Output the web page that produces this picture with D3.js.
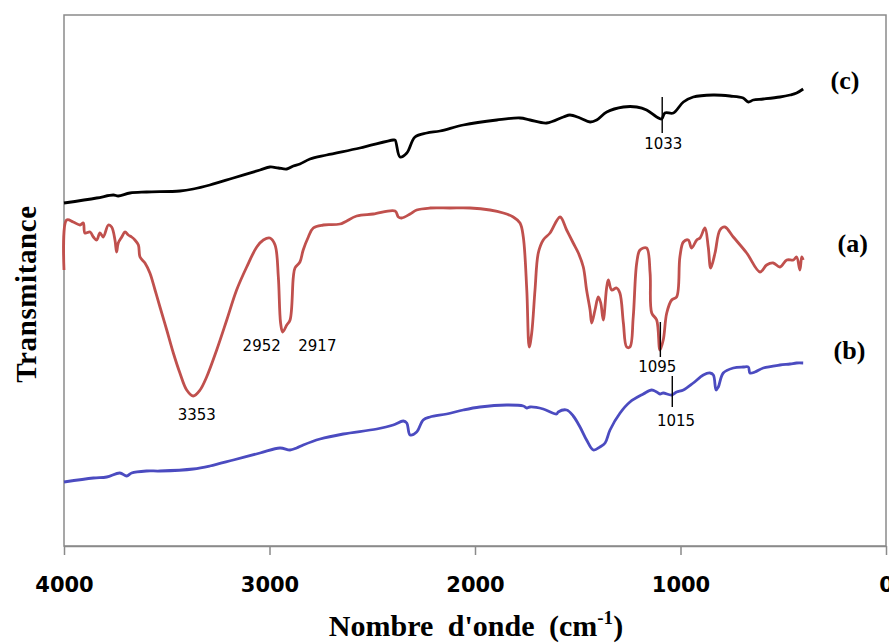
<!DOCTYPE html>
<html>
<head>
<meta charset="utf-8">
<script src="https://cdn.jsdelivr.net/npm/d3@7"></script>
<style>
	body { margin: 0; background: #fff; }
	svg { display: block; }
</style>
</head>
<body>
<div id="chart"></div>
<script>
// FTIR spectra, wavenumber (cm-1) vs transmittance (arbitrary units)
var ticksX = [4000, 3000, 2000, 1000, 0];

var spectrumC = [
	[4000, 343], [3841, 348], [3760, 351], [3736, 350], [3679, 353], [3598, 354], [3436, 355],
	[3371, 357], [3290, 361], [3176, 368], [3046, 376], [2998, 379], [2957, 378], [2916, 377],
	[2884, 380], [2852, 382], [2803, 387], [2722, 391], [2560, 398], [2398, 406], [2389, 406],
	[2365, 389], [2332, 393], [2292, 409], [2235, 413], [2170, 415], [2057, 421], [1894, 426],
	[1781, 428], [1732, 426], [1651, 423], [1570, 429], [1538, 431], [1489, 428], [1440, 424],
	[1408, 426], [1359, 434], [1278, 439], [1213, 439], [1165, 436], [1116, 429], [1092, 427],
	[1076, 433], [1035, 433], [986, 444], [938, 449], [841, 451], [759, 450], [695, 448],
	[670, 444], [646, 446], [597, 447], [516, 449], [467, 451], [435, 453], [403, 457]
];

var spectrumA = [
	[4000, 276], [3987, 326], [3955, 324], [3922, 321], [3906, 323], [3898, 313], [3873, 314],
	[3857, 309], [3841, 306], [3825, 313], [3809, 309], [3784, 321], [3768, 319], [3752, 306],
	[3744, 294], [3736, 303], [3719, 309], [3703, 314], [3687, 311], [3671, 309], [3655, 306],
	[3638, 301], [3630, 289], [3606, 283], [3582, 273], [3557, 256], [3533, 239], [3500, 216],
	[3468, 193], [3436, 173], [3403, 156], [3371, 150], [3338, 156], [3306, 169], [3257, 196],
	[3208, 226], [3160, 256], [3111, 279], [3062, 299], [3030, 306], [2998, 308], [2973, 301],
	[2957, 269], [2946, 223], [2936, 214], [2916, 221], [2900, 226], [2884, 269], [2876, 278],
	[2852, 284], [2836, 296], [2811, 309], [2787, 318], [2738, 321], [2657, 322], [2576, 330],
	[2495, 332], [2389, 335], [2373, 329], [2357, 328], [2316, 332], [2284, 336], [2219, 338],
	[2122, 338], [2024, 338], [1927, 336], [1862, 333], [1814, 329], [1781, 323], [1765, 309],
	[1748, 256], [1736, 199], [1724, 213], [1708, 256], [1692, 293], [1668, 306], [1635, 313],
	[1586, 329], [1554, 316], [1522, 303], [1497, 293], [1473, 279], [1457, 256], [1440, 236],
	[1432, 223], [1416, 236], [1400, 249], [1388, 243], [1376, 226], [1359, 259], [1351, 266],
	[1335, 256], [1311, 258], [1295, 253], [1278, 223], [1262, 199], [1246, 199], [1230, 229],
	[1213, 283], [1197, 296], [1165, 298], [1148, 273], [1140, 233], [1116, 226], [1100, 196],
	[1084, 206], [1067, 233], [1043, 246], [1019, 249], [1003, 289], [986, 304], [962, 306],
	[946, 298], [921, 306], [905, 308], [881, 318], [865, 299], [853, 278], [832, 293],
	[808, 316], [784, 319], [743, 309], [678, 293], [613, 274], [581, 281], [549, 283],
	[516, 279], [483, 286], [451, 286], [435, 289], [419, 276], [410, 289], [403, 286]
];

var spectrumB = [
	[4000, 64], [3857, 68], [3792, 69], [3728, 73], [3695, 70], [3671, 73], [3598, 75],
	[3533, 75], [3371, 77], [3290, 80], [3176, 86], [3046, 93], [2949, 98], [2900, 96],
	[2868, 98], [2836, 101], [2754, 107], [2641, 112], [2478, 117], [2398, 121], [2349, 125],
	[2332, 123], [2316, 111], [2284, 114], [2252, 126], [2219, 129], [2138, 132], [2057, 136],
	[1976, 139], [1846, 141], [1765, 140], [1748, 138], [1732, 139], [1668, 137], [1603, 132],
	[1595, 134], [1554, 136], [1522, 130], [1489, 119], [1457, 106], [1424, 96], [1392, 99],
	[1367, 103], [1343, 116], [1294, 133], [1246, 144], [1181, 152], [1140, 156], [1116, 154],
	[1100, 152], [1084, 153], [1043, 151], [1019, 154], [986, 156], [938, 163], [889, 171],
	[857, 173], [840, 171], [827, 156], [816, 159], [792, 173], [743, 178], [695, 179],
	[670, 179], [662, 173], [638, 174], [597, 178], [516, 181], [467, 182], [435, 183], [403, 183]
];

// peak marks: short vertical bar plus the wavenumber text
var peakLines = [
	{ w: 1089, t0: 449, t1: 413 },
	{ w: 1098, t0: 224, t1: 189 },
	{ w: 1040, t0: 170, t1: 139 }
];
var peakLabels = [
	{ text: "1033", w: 1084, t: 397 },
	{ text: "2952", w: 3038, t: 195 },
	{ text: "2917", w: 2767, t: 195 },
	{ text: "3353", w: 3354, t: 126 },
	{ text: "1095", w: 1113, t: 174 },
	{ text: "1015", w: 1022, t: 120 }
];

var series = [
	{ name: "(c)", values: spectrumC, color: "#000000", labelW: 270, labelT: 457 },
	{ name: "(a)", values: spectrumA, color: "#C0504D", labelW: 236, labelT: 294 },
	{ name: "(b)", values: spectrumB, color: "#4B4BC0", labelW: 255, labelT: 187 }
];

function makeChart() {
	var width = 889, height = 643,
		margin = { top: 15, right: 3, bottom: 97, left: 64 },
		innerW = width - margin.left - margin.right,
		innerH = height - margin.top - margin.bottom;

	var svg = d3.select("#chart").append("svg")
		.attr("width", width)
		.attr("height", height);

	var g = svg.append("g")
		.attr("transform", "translate(" + margin.left + "," + margin.top + ")");

	var x = d3.scaleLinear().domain([4000, 0]).range([0, innerW]);
	var y = d3.scaleLinear().domain([0, innerH]).range([innerH, 0]);

	// frame
	g.append("rect")
		.attr("width", innerW).attr("height", innerH)
		.attr("fill", "none")
		.attr("stroke", "#8a8a8a")
		.attr("stroke-width", 1.5);

	// x axis
	var xAxis = g.append("g")
		.attr("transform", "translate(0," + innerH + ")")
		.call(d3.axisBottom(x).tickValues(ticksX).tickSize(9).tickSizeOuter(0).tickFormat(d3.format("d")));
	xAxis.select(".domain").attr("stroke", "#8a8a8a").attr("stroke-width", 1.5);
	xAxis.selectAll(".tick line").attr("stroke", "#8a8a8a").attr("stroke-width", 1.5);
	xAxis.selectAll(".tick text")
		.attr("y", 31)
		.attr("dy", "0.71em")
		.attr("fill", "#000")
		.style("font-family", "'DejaVu Sans', Verdana, sans-serif")
		.style("font-weight", "bold")
		.style("font-size", "21px");

	var line = d3.line()
		.x(d => x(d[0]))
		.y(d => y(d[1]))
		.curve(d3.curveCatmullRom.alpha(0.5));

	g.selectAll("path.spectrum")
		.data(series).enter()
		.append("path").attr("class", "spectrum")
		.attr("d", d => line(d.values))
		.attr("fill", "none")
		.attr("stroke", d => d.color)
		.attr("stroke-width", 2.8)
		.attr("stroke-linejoin", "round");

	// series names at right
	g.selectAll("text.series")
		.data(series).enter()
		.append("text").attr("class", "series")
		.attr("x", d => x(d.labelW))
		.attr("y", d => y(d.labelT))
		.text(d => d.name)
		.style("font-family", "'Liberation Serif', 'Times New Roman', serif")
		.style("font-weight", "bold")
		.style("font-size", "26px")
		.attr("fill", "#000");

	// peak marks
	g.selectAll("line.peak")
		.data(peakLines).enter()
		.append("line").attr("class", "peak")
		.attr("x1", d => x(d.w)).attr("x2", d => x(d.w))
		.attr("y1", d => y(d.t0)).attr("y2", d => y(d.t1))
		.attr("stroke", "#000")
		.attr("stroke-width", 1.4);

	g.selectAll("text.peak")
		.data(peakLabels).enter()
		.append("text").attr("class", "peak")
		.attr("x", d => x(d.w))
		.attr("y", d => y(d.t))
		.attr("text-anchor", "middle")
		.text(d => d.text)
		.style("font-family", "'DejaVu Sans', Verdana, sans-serif")
		.style("font-size", "15px")
		.attr("fill", "#000");

	// axis titles
	var xt = svg.append("text")
		.attr("x", margin.left + innerW / 2 + 1)
		.attr("y", 636)
		.attr("text-anchor", "middle")
		.style("font-family", "'Liberation Serif', 'Times New Roman', serif")
		.style("font-weight", "bold")
		.style("font-size", "30px")
		.style("word-spacing", "7px");
	xt.append("tspan").text("Nombre d'onde (cm");
	xt.append("tspan").attr("dy", -12).style("font-size", "19px").text("-1");
	xt.append("tspan").attr("dy", 12).text(")");

	svg.append("text")
		.attr("transform", "translate(36," + 294 + ")rotate(-90)")
		.attr("text-anchor", "middle")
		.style("font-family", "'Liberation Serif', 'Times New Roman', serif")
		.style("font-weight", "bold")
		.style("font-size", "29px")
		.style("letter-spacing", "0.6px")
		.text("Transmitance");
}

window.addEventListener('DOMContentLoaded', makeChart);
</script>
</body>
</html>
